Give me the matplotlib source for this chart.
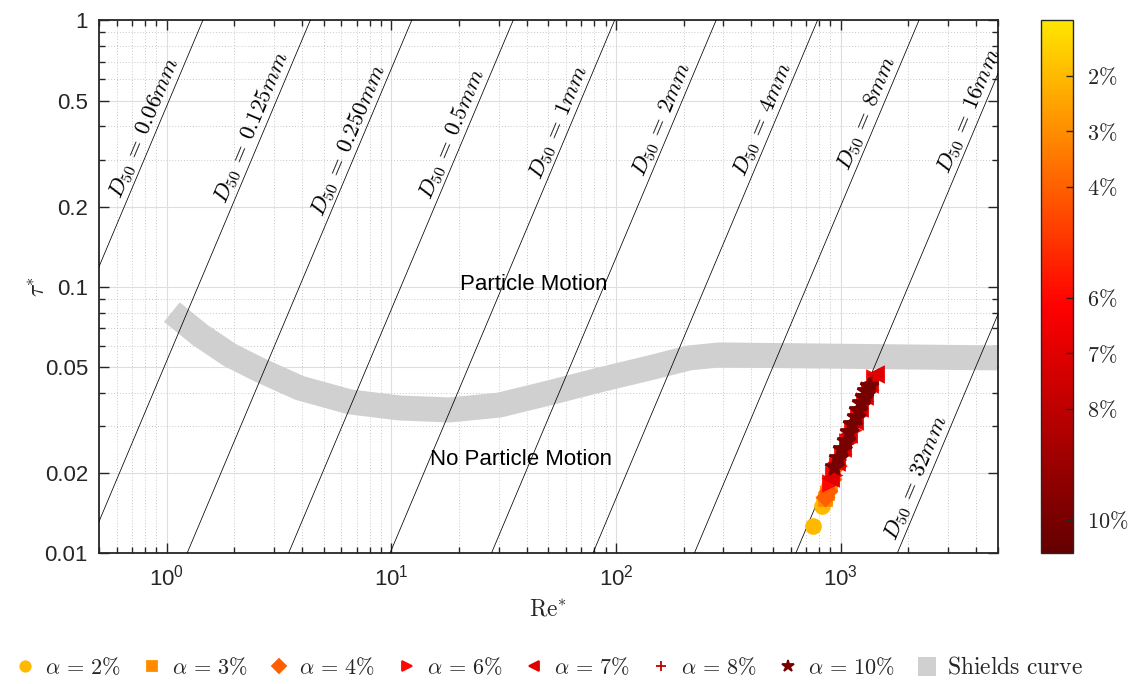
import numpy as np
import matplotlib
matplotlib.use('Agg')
import matplotlib.pyplot as plt
from matplotlib.colors import LinearSegmentedColormap, Normalize
from matplotlib.cm import ScalarMappable
from matplotlib.lines import Line2D
from matplotlib.patches import Patch
import matplotlib.ticker as mticker

# ---------------- data ----------------
shields_re = [1.055, 1.41, 1.91, 2.60, 3.91, 6.53, 10.9, 18.2, 30.3, 50.5, 84.4, 141, 212, 288, 653, 5000]
shields_tau = [0.0804, 0.0659, 0.0555, 0.0487, 0.0417, 0.0370, 0.0351, 0.0345, 0.0360, 0.0400,
               0.0447, 0.0496, 0.0541, 0.0555, 0.0551, 0.0541]

d50_mm = [0.06, 0.125, 0.25, 0.5, 1, 2, 4, 8, 16, 32]
d50_text = ['0.06', '0.125', '0.250', '0.5', '1', '2', '4', '8', '16', '32']
d50_label_tau = [0.38, 0.38, 0.34, 0.36, 0.40, 0.41, 0.41, 0.43, 0.44, 0.0185]

alpha_pct = [2, 3, 4, 6, 7, 8, 10]
alpha_markers = ['o', 's', 'D', '>', '<', '+', '*']

re_a2 = [753, 829, 845, 880]
tau_a2 = [0.0127, 0.0151, 0.0158, 0.0176]
re_a3 = [850, 868, 900]
tau_a3 = [0.0160, 0.0168, 0.0183]
re_a4 = [855, 875, 912, 965]
tau_a4 = [0.0163, 0.0172, 0.0190, 0.0215]
re_a6 = [892, 926, 960, 1011, 1068, 1123, 1198, 1272, 1335, 1407]
tau_a6 = [0.0183, 0.0197, 0.0212, 0.0235, 0.0262, 0.0290, 0.0330, 0.0372, 0.0410, 0.0455]
re_a7 = [905, 968, 1028, 1092, 1159, 1221, 1289, 1354, 1430]
tau_a7 = [0.0192, 0.0220, 0.0248, 0.0280, 0.0315, 0.0350, 0.0390, 0.0430, 0.0470]
re_a8 = [979, 1053, 1131, 1212, 1297, 1369]
tau_a8 = [0.0225, 0.0260, 0.0300, 0.0345, 0.0395, 0.0440]
re_a10 = [936, 976, 1013, 1052, 1091, 1128, 1165, 1200, 1234, 1268, 1300, 1332]
tau_a10 = [0.0210, 0.0228, 0.0246, 0.0265, 0.0285, 0.0305, 0.0325, 0.0345, 0.0365, 0.0385, 0.0405, 0.0425]

re_sets = [re_a2, re_a3, re_a4, re_a6, re_a7, re_a8, re_a10]
tau_sets = [tau_a2, tau_a3, tau_a4, tau_a6, tau_a7, tau_a8, tau_a10]

y_ticks = [0.01, 0.02, 0.05, 0.1, 0.2, 0.5, 1]
y_ticklabels = ['0.01', '0.02', '0.05', '0.1', '0.2', '0.5', '1']

# physical constants for the constant-D50 lines
nu = 1.29e-6
R = 1.65
g = 9.81

# ---------------- style ----------------
plt.rcParams['font.family'] = ['Liberation Sans', 'DejaVu Sans']
edge = '#262626'

fig = plt.figure(figsize=(11.35, 6.84), dpi=100)
ax = fig.add_axes([99 / 1135, 1 - 553.3 / 684, (997.7 - 99) / 1135, (553.3 - 20.3) / 684])
cax = fig.add_axes([1041 / 1135, 1 - 553.3 / 684, 32 / 1135, (553.3 - 20.3) / 684])

ax.set_xscale('log')
ax.set_yscale('log')
ax.set_xlim(0.5, 5000)
ax.set_ylim(0.01, 1)

cmap = LinearSegmentedColormap.from_list(
    'alpha_map', [(0.0, (1.0, 0.9, 0.0)), (0.535, (1.0, 0.0, 0.0)), (1.0, (0.39, 0.0, 0.0))])
norm = Normalize(vmin=1.0, vmax=10.6)

# grid
ax.set_axisbelow(True)
ax.grid(which='major', color='#dedede', lw=0.8, ls='-')
ax.grid(which='minor', color='#c8c8c8', lw=0.7, ls=(0, (1, 2)))

# Shields band
ax.plot(shields_re, shields_tau, color='#d0d0d0', lw=18, solid_capstyle='butt',
        solid_joinstyle='round', zorder=1.5)

# constant D50 lines
tau_line = np.array([0.005, 2.0])
for d, txt, tl in zip(d50_mm, d50_text, d50_label_tau):
    D = d * 1e-3
    re_line = np.sqrt(tau_line * R * g * D ** 3) / nu
    ax.plot(re_line, tau_line, color='k', lw=0.55, zorder=3)
    re_lab = np.sqrt(tl * R * g * D ** 3) / nu
    p1 = ax.transData.transform((re_lab, tl))
    p2 = ax.transData.transform((re_lab * 1.2, tl * 1.44))
    ang = np.degrees(np.arctan2(p2[1] - p1[1], p2[0] - p1[0]))
    ax.text(re_lab, tl, r'$D_{50}\,=\,' + txt + r'mm$', rotation=ang, rotation_mode='anchor',
            ha='center', va='bottom', fontsize=16.5, math_fontfamily='cm', zorder=3)

# data points
handles = []
labels = []
for a, m, rs, ts in zip(alpha_pct, alpha_markers, re_sets, tau_sets):
    c = cmap(norm(a))
    ms = 13 if m == '*' else (8.5 if m in ('s', 'D') else 10)
    ax.plot(rs, ts, ls='none', marker=m, color=c, mec=c, mfc=c, ms=ms, mew=2.0, zorder=4)
    handles.append(Line2D([], [], ls='none', marker=m, color=c, mec=c, mfc=c,
                          ms=7.5 if m != '*' else 9, mew=1.3))
    labels.append(r'$\alpha\,=\,' + str(a) + r'\%$')
handles.append(Patch(facecolor='#d0d0d0', edgecolor='none'))
labels.append(r'$\mathrm{Shields\ curve}$')

# region annotations
ax.text(42.9, 0.1016, 'Particle Motion', ha='center', va='center', fontsize=16, zorder=5)
ax.text(37.9, 0.0224, 'No Particle Motion', ha='center', va='center', fontsize=16, zorder=5)

# ticks
ax.yaxis.set_major_locator(mticker.FixedLocator(y_ticks))
ax.yaxis.set_major_formatter(mticker.FixedFormatter(y_ticklabels))
ax.yaxis.set_minor_locator(mticker.LogLocator(base=10, subs=np.arange(2, 10), numticks=20))
ax.yaxis.set_minor_formatter(mticker.NullFormatter())
ax.xaxis.set_major_locator(mticker.LogLocator(base=10, numticks=20))
ax.xaxis.set_minor_locator(mticker.LogLocator(base=10, subs=np.arange(2, 10), numticks=20))
ax.xaxis.set_minor_formatter(mticker.NullFormatter())
ax.tick_params(which='both', direction='in', top=True, right=True, color=edge, width=1.0,
               labelsize=16, labelcolor='#262626')
ax.tick_params(which='major', length=7, pad=8)
ax.tick_params(which='minor', length=4)
for s in ax.spines.values():
    s.set_color(edge)
    s.set_linewidth(1.3)

ax.set_xlabel(r'$\mathrm{Re}^{*}$', fontsize=17, math_fontfamily='cm', color='#262626')
ax.set_ylabel(r'$\tau^{*}$', fontsize=17, math_fontfamily='cm', color='#262626')
ax.xaxis.set_label_coords(0.5, -0.085)
ax.yaxis.set_label_coords(-0.055, 0.5)

# colorbar
sm = ScalarMappable(norm=norm, cmap=cmap)
cb = fig.colorbar(sm, cax=cax)
cb.set_ticks(alpha_pct)
cb.set_ticklabels([r'$' + str(a) + r'\%$' for a in alpha_pct])
cax.invert_yaxis()
cax.tick_params(direction='in', length=5, width=1.0, color=edge, labelsize=16, pad=10,
                labelcolor='#262626')
for t in cax.get_yticklabels():
    t.set_math_fontfamily('cm')
cb.outline.set_edgecolor(edge)
cb.outline.set_linewidth(1.0)

# legend
leg = fig.legend(handles, labels, loc='center', bbox_to_anchor=(0.484, 0.0234), ncol=8,
                 frameon=False, fontsize=16, handlelength=0.8, handletextpad=0.5,
                 columnspacing=1.0, handleheight=0.9)
for t in leg.get_texts():
    t.set_math_fontfamily('cm')
    t.set_color('#262626')
leg.get_texts()[-1].set_fontsize(17)

fig.savefig('out.png', dpi=100)
